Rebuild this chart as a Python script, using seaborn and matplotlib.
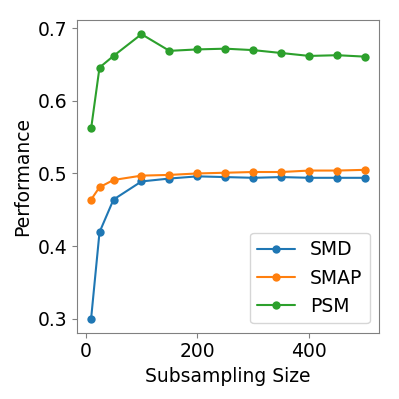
import seaborn as sns
import pandas as pd
from matplotlib import pyplot as plt

sizes = [10, 25, 50, 100, 150, 200, 250, 300, 350, 400, 450, 500]
smd = [0.300, 0.419, 0.464, 0.489, 0.493, 0.496, 0.495, 0.494, 0.495, 0.494, 0.494, 0.494]
smap = [0.464, 0.481, 0.491, 0.497, 0.498, 0.500, 0.501, 0.502, 0.502, 0.504, 0.504, 0.505]
psm = [0.562, 0.646, 0.662, 0.692, 0.669, 0.671, 0.672, 0.670, 0.666, 0.662, 0.663, 0.661]
methods = ['SMD', 'SMAP', 'PSM']

df = pd.DataFrame({'size': sizes * 3,
                   'perf': smd + smap + psm,
                   'method': sum([[m] * len(sizes) for m in methods], [])})

sns.set_style("white", {'axes.edgecolor': '0.5', 'xtick.color': '0.5', 'ytick.color': '0.5',
                        'xtick.bottom': True, 'ytick.left': True,
                        'axes.labelcolor': 'black', 'text.color': 'black'})
plt.rcParams['font.family'] = ['DejaVu Sans']

fig, ax = plt.subplots(figsize=(3.99, 3.99), dpi=100)
sns.lineplot(data=df, x='size', y='perf', hue='method', marker='o', markersize=6,
             markeredgewidth=0, palette=['#1f77b4', '#ff7f0e', '#2ca02c'], ax=ax)

ax.set_xlabel('Subsampling Size', fontsize=13.5)
ax.set_ylabel('Performance', fontsize=13.5)
ax.tick_params(labelsize=13.5, labelcolor='black', length=3.5)
ax.set_xticks([0, 200, 400])
ax.set_yticks([0.3, 0.4, 0.5, 0.6, 0.7])
ax.legend(title=None, loc='lower right', fontsize=13.5)

fig.subplots_adjust(left=0.194, right=0.95, top=0.95, bottom=0.166)
fig.savefig('out.png')
